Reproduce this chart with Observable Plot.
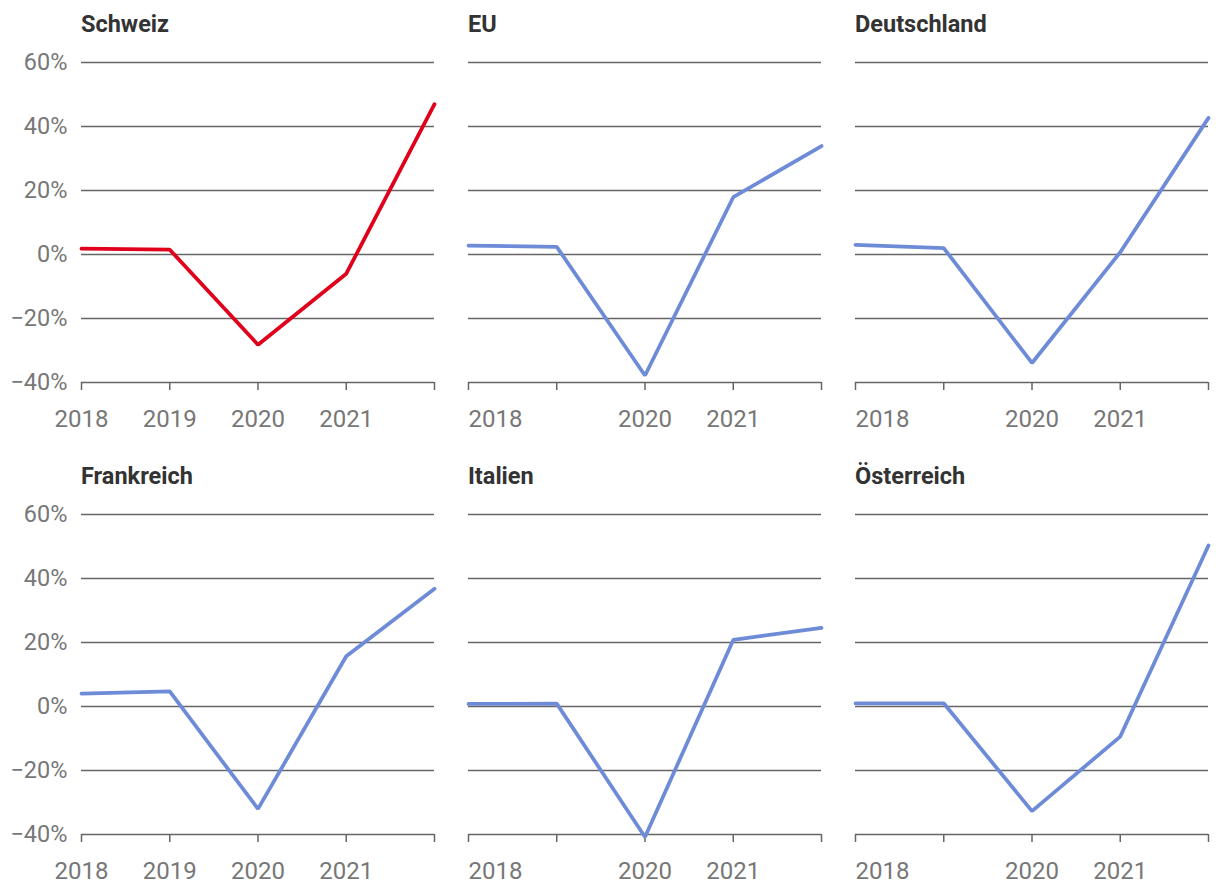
<!DOCTYPE html>
<html>
<head>
<meta charset="utf-8">
<script src="https://cdn.jsdelivr.net/npm/d3@7"></script>
<script src="https://cdn.jsdelivr.net/npm/@observablehq/plot@0.6"></script>
<style>
  html, body { margin: 0; padding: 0; background: #fff; }
  #root { position: relative; width: 1220px; height: 894px; font-family: Roboto, "Noto Sans", sans-serif; }
  .panel { position: absolute; }
  .title { position: absolute; font-family: Roboto, sans-serif; font-weight: bold; font-size: 23.5px; color: #333; line-height: 24px; white-space: nowrap; }
</style>
</head>
<body>
<div id="root"></div>
<script>
const years = [2018, 2019, 2020, 2021, 2022];
const countries = ["Schweiz", "EU", "Deutschland", "Frankreich", "Italien", "Österreich"];
const schweiz = [1.8, 1.5, -28.2, -6.0, 47.0];
const eu = [2.8, 2.4, -37.8, 17.9, 33.9];
const deutschland = [3.0, 2.0, -33.9, 0.7, 42.7];
const frankreich = [4.0, 4.7, -32.0, 15.7, 36.8];
const italien = [0.8, 0.9, -40.8, 20.8, 24.6];
const oesterreich = [1.0, 1.0, -32.7, -9.4, 50.3];
const seriesValues = [schweiz, eu, deutschland, frankreich, italien, oesterreich];
const lineColors = ["#e0001b", "#6e8bd8", "#6e8bd8", "#6e8bd8", "#6e8bd8", "#6e8bd8"];
const yTicks = [-40, -20, 0, 20, 40, 60];
const xTickLabels = ["2018", "2019", "2020", "2021", ""];

const root = document.getElementById("root");
const plotWidth = 353;
const plotHeight = 320;
const colLeft = [0, 440, 827];
const colMarginLeft = [81, 28, 28];
const colMarginRight = [6, 6, 12];
const rowTop = [40, 492];
const marginTop = 22, marginBottom = 60;
const gridColor = "#666";
const textColor = "#777";

countries.forEach((name, i) => {
  const col = i % 3, row = Math.floor(i / 3);
  const data = years.map((y, k) => ({year: y, value: seriesValues[i][k]}));
  const left = col === 0;
  const labelFor = (y) => xTickLabels[years.indexOf(y)];
  const marks = [
    Plot.ruleY(yTicks, {stroke: gridColor, strokeWidth: 1.5}),
    Plot.axisX(years, {
      label: null,
      tickSize: 8, tickPadding: 19, stroke: gridColor, strokeWidth: 1.5,
      fontSize: 24, fill: textColor,
      tickFormat: left ? labelFor : (y) => (y === 2020 || y === 2021) ? labelFor(y) : ""
    }),
    Plot.line(data, {x: "year", y: "value", stroke: lineColors[i], strokeWidth: 3.75, strokeLinejoin: "miter", strokeLinecap: "round"})
  ];
  if (!left) {
    marks.push(Plot.axisX([2018], {label: null, tickSize: 0, tickPadding: 27, textAnchor: "start", fill: textColor, fontSize: 24, tickFormat: labelFor}));
  } else {
    marks.push(Plot.axisY(yTicks, {label: null, tickSize: 0, tickPadding: 14, fontSize: 23.5, fill: textColor, tickFormat: d => (d < 0 ? "\u2212" + Math.abs(d) : d) + "%"}));
  }
  const chart = Plot.plot({
    width: colMarginLeft[col] + plotWidth + colMarginRight[col],
    height: marginTop + plotHeight + marginBottom,
    marginLeft: colMarginLeft[col],
    marginRight: colMarginRight[col],
    marginTop, marginBottom,
    style: {fontFamily: "Roboto, sans-serif", fontSize: "23px", color: textColor, background: "transparent", overflow: "visible"},
    x: {type: "linear", domain: [2018, 2022], axis: null},
    y: {domain: [-40, 60], axis: null},
    marks
  });
  const div = document.createElement("div");
  div.className = "panel";
  div.style.left = colLeft[col] + "px";
  div.style.top = rowTop[row] + "px";
  div.appendChild(chart);
  root.appendChild(div);

  const t = document.createElement("div");
  t.className = "title";
  t.textContent = name;
  t.style.left = (colLeft[col] + colMarginLeft[col]) + "px";
  t.style.top = (rowTop[row] - 28) + "px";
  root.appendChild(t);
});
</script>
</body>
</html>
